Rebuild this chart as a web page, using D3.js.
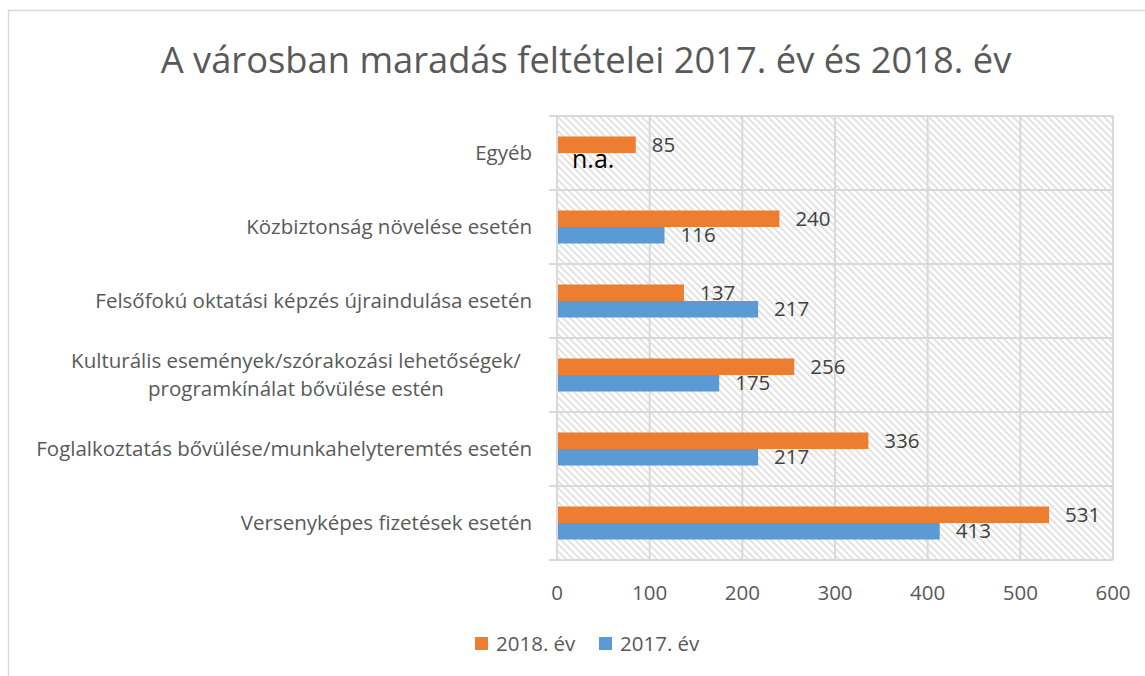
<!DOCTYPE html>
<html>
<head>
<meta charset="utf-8">
<script src="https://cdn.jsdelivr.net/npm/d3@7"></script>
<style>
  body { margin: 0; background: #fff; }
  svg { display: block; font-family: "Open Sans", sans-serif; }
</style>
</head>
<body>
<svg id="chart"></svg>
<script>
// data (top to bottom as shown)
const categories = [
    "Egyéb",
    "Közbiztonság növelése esetén",
    "Felsőfokú oktatási képzés újraindulása esetén",
    "Kulturális események/szórakozási lehetőségek/\nprogramkínálat bővülése estén",
    "Foglalkoztatás bővülése/munkahelyteremtés esetén",
    "Versenyképes fizetések esetén"
];
const values2018 = [85, 240, 137, 256, 336, 531];
const values2017 = [null, 116, 217, 175, 217, 413];
const seriesNames = ["2018. év", "2017. év"];
const xTicks = [0, 100, 200, 300, 400, 500, 600];

const width = 1145, height = 676;
const margin = { top: 116, right: 32, bottom: 116, left: 557 };
const colors = { "2018. év": "#ED7D31", "2017. év": "#5B9BD5" };
const gridColor = "#d9d9d9";
const textColor = "#595959";
const fs = "20.5px";

const svg = d3.select("#chart")
    .attr("width", width)
    .attr("height", height);

// hatch pattern for plot background
const defs = svg.append("defs");
const pat = defs.append("pattern")
    .attr("id", "hatch")
    .attr("patternUnits", "userSpaceOnUse")
    .attr("width", 7)
    .attr("height", 7);
pat.append("path")
    .attr("d", "M-1,-1 L8,8 M-1,6 L1,8 M6,-1 L8,1")
    .attr("stroke", "#e0e0e0")
    .attr("stroke-width", 1.8);

// outer chart border (cut off right/bottom like the picture)
svg.append("rect")
    .attr("x", 8.5).attr("y", 10.5)
    .attr("width", 1300).attr("height", 800)
    .attr("fill", "#fff")
    .attr("stroke", gridColor)
    .attr("stroke-width", 1.5);

svg.append("text")
    .attr("x", 586)
    .attr("y", 73)
    .attr("text-anchor", "middle")
    .attr("fill", textColor)
    .style("font-size", "36.3px")
    .text("A városban maradás feltételei 2017. év és 2018. év");

const x = d3.scaleLinear()
    .domain([0, 600])
    .range([margin.left, width - margin.right]);

const y = d3.scaleBand()
    .domain(categories)
    .range([margin.top, height - margin.bottom]);

const ySub = d3.scaleBand()
    .domain(seriesNames)
    .range([0, y.bandwidth()])
    .paddingOuter(1.24);

// plot background
svg.append("rect")
    .attr("x", x(0)).attr("y", margin.top)
    .attr("width", x(600) - x(0))
    .attr("height", height - margin.bottom - margin.top)
    .attr("fill", "url(#hatch)");

// vertical gridlines
svg.append("g")
    .selectAll("line")
    .data(xTicks)
    .enter()
    .append("line")
    .attr("x1", d => x(d)).attr("x2", d => x(d))
    .attr("y1", margin.top).attr("y2", height - margin.bottom)
    .attr("stroke", gridColor)
    .attr("stroke-width", 2);

// category boundaries (with small tick marks to the left)
const bounds = categories.map(c => y(c)).concat([height - margin.bottom]);
svg.append("g")
    .selectAll("line")
    .data(bounds)
    .enter()
    .append("line")
    .attr("x1", x(0) - 8).attr("x2", x(600))
    .attr("y1", d => d).attr("y2", d => d)
    .attr("stroke", gridColor)
    .attr("stroke-width", 2);

// x axis tick labels
svg.append("g")
    .selectAll("text")
    .data(xTicks)
    .enter()
    .append("text")
    .attr("x", d => x(d))
    .attr("y", height - margin.bottom + 40)
    .attr("text-anchor", "middle")
    .attr("fill", textColor)
    .style("font-size", fs)
    .text(d => d);

// category labels
const catLabels = svg.append("g")
    .selectAll("text")
    .data(categories)
    .enter()
    .append("text")
    .attr("fill", textColor)
    .style("font-size", fs);

catLabels.each(function(d) {
    const lines = d.split("\n");
    const cy = y(d) + y.bandwidth() / 2;
    const t = d3.select(this);
    if (lines.length === 1) {
        t.attr("x", 532).attr("y", cy + 7).attr("text-anchor", "end").text(d);
    } else {
        t.attr("text-anchor", "middle");
        lines.forEach((ln, i) => {
            t.append("tspan")
                .attr("x", 296)
                .attr("y", cy + 7 + (i - (lines.length - 1) / 2) * 28)
                .text(ln);
        });
    }
});

// bars
const rows = categories.map((c, i) => ({
    cat: c,
    vals: [
        { name: "2018. év", value: values2018[i] },
        { name: "2017. év", value: values2017[i] }
    ]
}));

const groups = svg.append("g")
    .selectAll("g")
    .data(rows)
    .enter()
    .append("g")
    .attr("transform", d => `translate(0,${y(d.cat)})`);

groups.selectAll("rect")
    .data(d => d.vals.filter(v => v.value != null))
    .enter()
    .append("rect")
    .attr("x", x(0) + 1)
    .attr("y", d => ySub(d.name))
    .attr("width", d => x(d.value) - x(0) - 1)
    .attr("height", ySub.bandwidth())
    .attr("fill", d => colors[d.name]);

groups.selectAll("text")
    .data(d => d.vals)
    .enter()
    .append("text")
    .attr("x", d => d.value != null ? x(d.value) + 16 : x(0) + 15)
    .attr("y", d => ySub(d.name) + ySub.bandwidth() / 2 + 7)
    .attr("fill", d => d.value != null ? "#404040" : "#000")
    .style("font-size", d => d.value != null ? fs : "25px")
    .text(d => d.value != null ? d.value : "n.a.");

// legend
const legend = svg.append("g")
    .selectAll("g")
    .data(seriesNames)
    .enter()
    .append("g")
    .attr("transform", (d, i) => `translate(${475 + i * 124},637)`);

legend.append("rect")
    .attr("width", 13).attr("height", 13)
    .attr("fill", d => colors[d]);

legend.append("text")
    .attr("x", 21).attr("y", 14)
    .attr("fill", textColor)
    .style("font-size", fs)
    .text(d => d);
</script>
</body>
</html>
